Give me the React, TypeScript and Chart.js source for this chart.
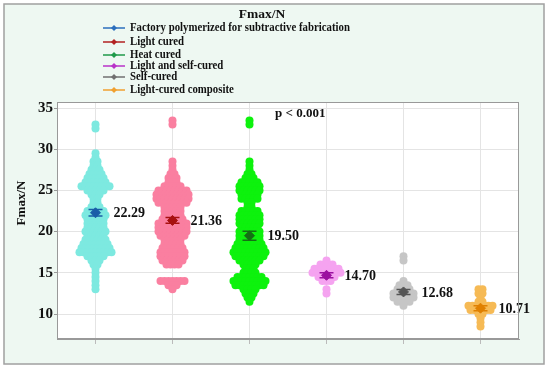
import React, { useEffect, useRef } from "react";
import { Chart, registerables } from "chart.js";

Chart.register(...registerables);

// ---- data ----
const groups = [
  "Factory polymerized for subtractive fabrication",
  "Light cured",
  "Heat cured",
  "Light and self-cured",
  "Self-cured",
  "Light-cured composite",
];

// [value, count] frequency tables
const factoryDots: [number, number][] = [
  [33.0, 1], [32.5, 1], [29.5, 1], [29.0, 1], [28.5, 2], [28.0, 2], [27.5, 3], [27.0, 4],
  [26.5, 5], [26.0, 6], [25.5, 8], [25.0, 5], [24.5, 3], [24.0, 2], [23.5, 2], [23.0, 3],
  [22.5, 5], [22.0, 6], [21.5, 5], [21.0, 5], [20.5, 5], [20.0, 6], [19.5, 5], [19.0, 6],
  [18.5, 7], [18.0, 8], [17.5, 9], [17.0, 5], [16.5, 3], [16.0, 2], [15.5, 1], [15.0, 1],
  [14.5, 1], [14.0, 1], [13.5, 1], [13.0, 1],
];
const lightCuredDots: [number, number][] = [
  [33.5, 1], [33.0, 1], [28.5, 1], [28.0, 1], [27.5, 1], [27.0, 2], [26.5, 3], [26.0, 3],
  [25.5, 5], [25.0, 8], [24.5, 9], [24.0, 9], [23.5, 8], [23.0, 5], [22.5, 5], [22.0, 5],
  [21.5, 6], [21.0, 8], [20.5, 8], [20.0, 8], [19.5, 7], [19.0, 5], [18.5, 5], [18.0, 6],
  [17.5, 7], [17.0, 7], [16.5, 6], [16.0, 4], [14.0, 7], [13.5, 3], [13.0, 1],
];
const heatCuredDots: [number, number][] = [
  [33.5, 1], [33.0, 1], [28.5, 1], [28.0, 1], [27.5, 1], [27.0, 2], [26.5, 3], [26.0, 5],
  [25.5, 6], [25.0, 6], [24.5, 5], [24.0, 5], [23.5, 2], [23.0, 2], [22.5, 5], [22.0, 6],
  [21.5, 6], [21.0, 6], [20.5, 5], [20.0, 6], [19.5, 6], [19.0, 6], [18.5, 7], [18.0, 8],
  [17.5, 9], [17.0, 8], [16.5, 6], [16.0, 4], [15.5, 3], [15.0, 4], [14.5, 7], [14.0, 9],
  [13.5, 8], [13.0, 4], [12.5, 3], [12.0, 2], [11.5, 1],
];
const lightSelfDots: [number, number][] = [
  [16.5, 1], [16.0, 4], [15.5, 7], [15.0, 8], [14.5, 5], [14.0, 3], [13.0, 1], [12.5, 1],
];
const selfCuredDots: [number, number][] = [
  [17.0, 1], [16.5, 1], [14.0, 1], [13.5, 3], [13.0, 4], [12.5, 6], [12.0, 6], [11.5, 4], [11.0, 1],
];
const compositeDots: [number, number][] = [
  [13.0, 2], [12.5, 2], [12.0, 1], [11.5, 2], [11.0, 7], [10.5, 6], [10.0, 2], [9.5, 1],
  [9.0, 1], [8.5, 1],
];
const allDots = [factoryDots, lightCuredDots, heatCuredDots, lightSelfDots, selfCuredDots, compositeDots];

const means = [22.29, 21.36, 19.5, 14.7, 12.68, 10.71];
const errors = [0.4, 0.35, 0.55, 0.3, 0.3, 0.3];
const yTicks = [10, 15, 20, 25, 30, 35];
const pText = "p < 0.001";
const titleText = "Fmax/N";

// ---- styles ----
const dotColors = ["#7DE9E0", "#FA7FA0", "#0DF20D", "#F5A3F0", "#C6C6C6", "#F6BA55"];
const meanColors = ["#1A5EA8", "#A81010", "#157015", "#9C10A0", "#555555", "#E08000"];
const legendColors = ["#2B6FBD", "#B22222", "#1F9A4A", "#B833C8", "#707070", "#F0A030"];
const SERIF = "'Liberation Serif', 'Times New Roman', serif";
const STEP = 0.052; // horizontal swarm step in category units

function expand(dots: [number, number][], cat: number) {
  const pts: { x: number; y: number }[] = [];
  dots.forEach(([v, n]) => {
    for (let k = 0; k < n; k++) pts.push({ x: cat + (k - (n - 1) / 2) * STEP, y: v });
  });
  return pts;
}

const decorPlugin = {
  id: "decor",
  beforeDraw(chart: any) {
    const { ctx, chartArea: a, width, height } = chart;
    ctx.save();
    ctx.fillStyle = "#ffffff";
    ctx.fillRect(0, 0, width, height);
    ctx.fillStyle = "#EEF8F2";
    ctx.fillRect(4, 4, 540, 360);
    ctx.strokeStyle = "#a0a0a0";
    ctx.lineWidth = 1.5;
    ctx.strokeRect(4, 4, 540, 360);
    ctx.fillStyle = "#ffffff";
    ctx.fillRect(a.left, a.top, a.right - a.left, a.bottom - a.top);
    ctx.restore();
  },
  beforeDatasetDraw(chart: any, args: any) {
    if (args.index !== groups.length) return;
    const { ctx, scales } = chart;
    ctx.save();
    means.forEach((m, i) => {
      const x = scales.x.getPixelForValue(i + 1);
      const yt = scales.y.getPixelForValue(m + errors[i]);
      const yb = scales.y.getPixelForValue(m - errors[i]);
      ctx.strokeStyle = meanColors[i];
      ctx.lineWidth = 1.5;
      ctx.beginPath();
      ctx.moveTo(x, yt);
      ctx.lineTo(x, yb);
      ctx.moveTo(x - 7, yt);
      ctx.lineTo(x + 7, yt);
      ctx.moveTo(x - 7, yb);
      ctx.lineTo(x + 7, yb);
      ctx.stroke();
    });
    ctx.restore();
  },
  afterDatasetsDraw(chart: any) {
    const { ctx, scales } = chart;
    ctx.save();
    ctx.fillStyle = "#111";
    ctx.font = `bold 14px ${SERIF}`;
    ctx.textAlign = "left";
    ctx.textBaseline = "middle";
    means.forEach((m, i) => {
      const x = scales.x.getPixelForValue(i + 1);
      const y = scales.y.getPixelForValue(m);
      ctx.fillText(m.toFixed(2), x + 18, y + 1);
    });
    ctx.font = `bold 13px ${SERIF}`;
    ctx.fillText(pText, 275, 114);
    ctx.restore();
  },
  afterDraw(chart: any) {
    const { ctx, chartArea: a } = chart;
    ctx.save();
    ctx.strokeStyle = "#999";
    ctx.lineWidth = 1;
    ctx.strokeRect(a.left + 0.5, a.top + 0.5, a.right - a.left - 1, a.bottom - a.top - 1);
    // y title
    ctx.fillStyle = "#111";
    ctx.font = `bold 13px ${SERIF}`;
    ctx.textAlign = "center";
    ctx.textBaseline = "middle";
    ctx.translate(22, 203);
    ctx.rotate(-Math.PI / 2);
    ctx.fillText(titleText, 0, 0);
    ctx.restore();
    // legend
    ctx.save();
    ctx.fillStyle = "#111";
    ctx.font = `bold 13.5px ${SERIF}`;
    ctx.textAlign = "center";
    ctx.textBaseline = "middle";
    ctx.fillText(titleText, 262, 15);
    const rows = [28, 42, 55, 66, 77, 90];
    ctx.textAlign = "left";
    ctx.font = `bold 13px ${SERIF}`;
    groups.forEach((g, i) => {
      const y = rows[i];
      ctx.strokeStyle = legendColors[i];
      ctx.lineWidth = 1.5;
      ctx.beginPath();
      ctx.moveTo(103, y);
      ctx.lineTo(125, y);
      ctx.stroke();
      ctx.fillStyle = legendColors[i];
      ctx.beginPath();
      ctx.moveTo(114, y - 3);
      ctx.lineTo(117, y);
      ctx.lineTo(114, y + 3);
      ctx.lineTo(111, y);
      ctx.closePath();
      ctx.fill();
      ctx.fillStyle = "#111";
      ctx.save();
      ctx.translate(130, y);
      ctx.scale(0.83, 1);
      ctx.fillText(g, 0, 0);
      ctx.restore();
    });
    ctx.restore();
  },
};

export default function App() {
  const ref = useRef<HTMLCanvasElement>(null);
  useEffect(() => {
    if (!ref.current) return;
    const dotSets = allDots.map((d, i) => ({
      label: groups[i],
      data: expand(d, i + 1),
      backgroundColor: dotColors[i],
      borderWidth: 0,
      pointRadius: 4,
      pointHoverRadius: 4,
      order: 2,
    }));
    const meanSet = {
      label: "mean",
      data: means.map((m, i) => ({ x: i + 1, y: m })),
      backgroundColor: meanColors,
      borderColor: meanColors,
      borderWidth: 1,
      pointStyle: "rectRot",
      pointRadius: 5,
      pointHoverRadius: 5,
      order: 1,
    };
    const chart = new Chart(ref.current, {
      type: "scatter",
      data: { datasets: [...dotSets, meanSet] as any },
      plugins: [decorPlugin],
      options: {
        animation: false,
        responsive: false,
        devicePixelRatio: 1,
        events: [],
        layout: { padding: { top: 102, right: 31, bottom: 0, left: 0 } },
        plugins: { legend: { display: false }, tooltip: { enabled: false } },
        scales: {
          x: {
            type: "linear",
            min: 0.5,
            max: 6.5,
            afterBuildTicks: (s: any) => {
              s.ticks = groups.map((_, i) => ({ value: i + 1 }));
            },
            afterFit: (s: any) => {
              s.height = 32;
            },
            ticks: { callback: () => "", padding: 0 },
            grid: { color: "#e4e4e4", tickLength: 5, tickColor: "#bbb" },
            border: { color: "#999" },
          },
          y: {
            min: 6.97,
            max: 35.73,
            afterBuildTicks: (s: any) => {
              s.ticks = yTicks.map((v) => ({ value: v }));
            },
            afterFit: (s: any) => {
              s.width = 57;
            },
            ticks: {
              color: "#111",
              padding: 1,
              font: { family: SERIF, size: 15, weight: "bold" },
            },
            grid: { color: "#e4e4e4", tickLength: 3, tickColor: "#999" },
            border: { color: "#999" },
          },
        },
      } as any,
    });
    return () => chart.destroy();
  }, []);
  return (
    <div style={{ position: "fixed", left: 0, top: 0, width: 550, height: 371 }}>
      <canvas ref={ref} width={550} height={371} />
    </div>
  );
}
